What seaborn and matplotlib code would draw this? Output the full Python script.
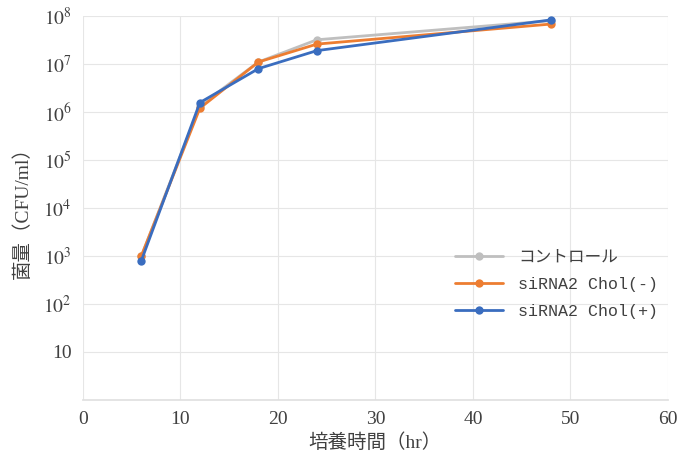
import numpy as np
import pandas as pd
import matplotlib
matplotlib.use("Agg")
import matplotlib.pyplot as plt
import matplotlib.ticker as mticker
import seaborn as sns

# %% data
hours = [6, 12, 18, 24, 48]
control = [1.0e3, 1.35e6, 1.1e7, 3.2e7, 8.0e7]
chol_minus = [1.0e3, 1.2e6, 1.1e7, 2.6e7, 6.8e7]
chol_plus = [8.0e2, 1.57e6, 8.0e6, 1.9e7, 8.3e7]
series_names = ["コントロール", "siRNA2 Chol(-)", "siRNA2 Chol(+)"]
colors = ["#BFBFBF", "#ED7D31", "#3A6DBF"]
y_ticks = [1e1, 1e2, 1e3, 1e4, 1e5, 1e6, 1e7, 1e8]

df = pd.DataFrame({
    "hr": hours * 3,
    "cfu": control + chol_minus + chol_plus,
    "series": [s for s in series_names for _ in hours],
})

# %% plot
sns.set_theme(style="whitegrid")
plt.rcParams["font.family"] = ["Liberation Serif", "Noto Sans CJK JP"]
plt.rcParams["mathtext.fontset"] = "stix"

fig = plt.figure(figsize=(6.85, 4.58), dpi=100)
ax = fig.add_axes([0.121, 0.127, 0.854, 0.838])
sns.lineplot(data=df, x="hr", y="cfu", hue="series", hue_order=series_names,
             palette=colors, marker="o", markersize=6, markeredgewidth=0,
             linewidth=2, ax=ax)
ax.set_yscale("log")
ax.set_ylim(1, 1e8)
ax.set_xlim(0, 60)
ax.set_xticks(range(0, 61, 10))
ax.yaxis.set_major_locator(mticker.FixedLocator(y_ticks))
ax.yaxis.set_minor_locator(mticker.NullLocator())

def fmt(v, pos):
    e = int(round(np.log10(v)))
    if e == 1:
        return "10"
    return r"$10^{%d}$" % e

ax.yaxis.set_major_formatter(mticker.FuncFormatter(fmt))
ax.tick_params(axis="both", labelsize=14, colors="#404040", length=0, pad=8)
ax.grid(color="#E6E6E6", linewidth=0.8)
for side in ["top", "right", "left"]:
    ax.spines[side].set_visible(False)
ax.spines["bottom"].set_color("#E0E0E0")

ax.set_xlabel("培養時間（hr）", fontsize=14, color="#404040", labelpad=4)
ax.set_ylabel("菌量（CFU/ml）", fontsize=14, color="#404040", labelpad=8)

leg = ax.legend(loc="upper left", bbox_to_anchor=(0.63, 0.40), frameon=False,
                borderaxespad=0, borderpad=0.2,
                prop={"family": ["Liberation Mono", "Noto Sans CJK JP"], "size": 12},
                handlelength=2.9, handletextpad=0.9, labelspacing=0.72)
for t in leg.get_texts():
    t.set_color("#404040")

fig.savefig("out.png", dpi=100)
